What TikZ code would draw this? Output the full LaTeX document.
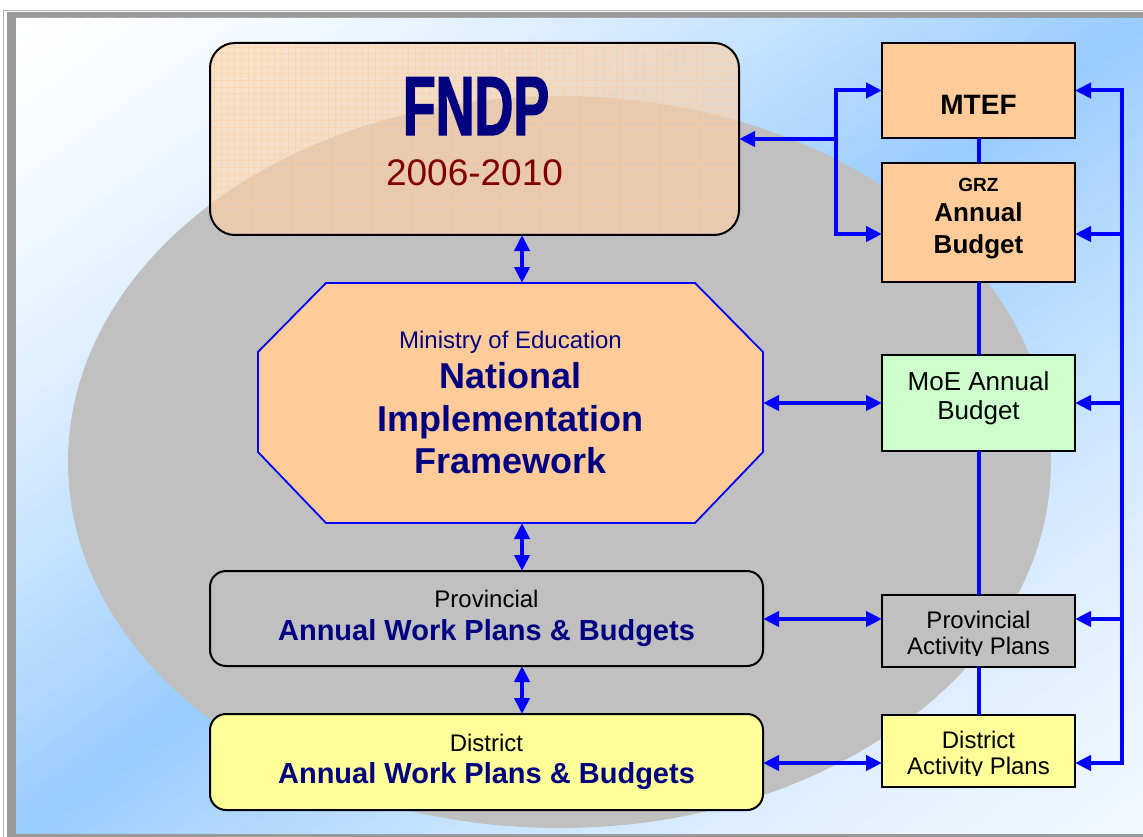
\documentclass[tikz,border=0pt]{standalone}
\usepackage{fontspec}
\setmainfont{Liberation Sans}
\newfontfamily\fndpfont{Liberation Sans}[FakeStretch=0.64,FakeBold=1.5]
\usetikzlibrary{arrows.meta,calc}
\definecolor{navy}{HTML}{000080}
\definecolor{dred}{HTML}{800000}
\definecolor{peach}{HTML}{FFCC99}
\definecolor{paleorange}{HTML}{FFD2A8}
\definecolor{lgray}{HTML}{C0C0C0}
\definecolor{lyellow}{HTML}{FFFF99}
\definecolor{lgreen}{HTML}{CCFFCC}
\definecolor{bgblue}{HTML}{99CCFF}
\definecolor{framegray}{HTML}{999999}
\definecolor{framelight}{HTML}{B0B0B0}
\definecolor{arrowblue}{HTML}{0000FF}
\tikzset{
  every node/.style={inner sep=0pt, outer sep=0pt},
  box/.style={draw=black, line width=2pt, minimum width=193pt},
  wbox/.style={draw=black, line width=2pt, rounded corners=16pt, minimum width=553pt},
  conn/.style={draw=arrowblue, line width=4pt},
  arr/.style={conn, -{Triangle[length=16pt,width=15pt]}},
  dbl/.style={conn, line join=miter, {Triangle[length=16pt,width=15pt]}-{Triangle[length=16pt,width=15pt]}},
  lbl/.style={anchor=base, align=center},
}
\begin{document}
\begin{tikzpicture}[x=1pt,y=-1pt]
\useasboundingbox (0,0) rectangle (1143,837);
\clip (0,0) rectangle (1143,837);
% frame and background
\draw[framelight, line width=1pt] (3.5,10.5) rectangle (1170,870);
\fill[framegray] (7,12) rectangle (1170,870);
\begin{scope}
  \clip (16,18) rectangle (1160,833);
  \foreach \i in {0,...,99} {
    \pgfmathsetmacro{\ca}{\i/50}
    \pgfmathsetmacro{\cb}{(\i+1.4)/50}
    \pgfmathsetmacro{\cm}{(\i+0.5)/50}
    \pgfmathsetmacro{\pct}{\cm<1 ? 100*(\cm)^1.5 : 15+85*(2-\cm)^1.5}
    \fill[bgblue!\pct!white] (16+\ca*1127,18) -- (16+\cb*1127,18) -- (16,18+\cb*815) -- (16,18+\ca*815) -- cycle;
  }
\end{scope}
\fill[lgray] (559.5,462) ellipse [x radius=491.5pt, y radius=366pt];

% boxes
\node[fill=paleorange, fill opacity=0.6, rounded corners=25pt, minimum width=529pt, minimum height=192pt] (fndp) at (474.5,139) {};
\begin{scope}
  \clip[rounded corners=25pt] (fndp.north west) rectangle (fndp.south east);
  \draw[peach, line width=0.6pt, opacity=0.5] (200,30) grid[step=6.7pt] (750,250);
\end{scope}
\draw[black, line width=2pt, rounded corners=25pt] (fndp.north west) rectangle (fndp.south east);
\node[box, fill=peach, minimum height=95pt] (mtef) at (978.5,90.5) {};
\node[box, fill=peach, minimum height=119pt] (grz) at (978.5,222.5) {};
\node[box, fill=lgreen, minimum height=96pt] (moe) at (978.5,403) {};
\node[box, fill=lgray, minimum height=72pt] (pact) at (978.5,631) {};
\node[box, fill=lyellow, minimum height=72pt] (dact) at (978.5,751) {};
\node[minimum width=505pt, minimum height=240pt] (nif) at (510.5,403) {};
\draw[draw=arrowblue, line width=1.8pt, fill=peach, line join=miter]
  ($(nif.north west)+(68,0)$) -- ($(nif.north east)+(-68,0)$) -- ($(nif.north east)+(0,69)$)
  -- ($(nif.south east)+(0,-71)$) -- ($(nif.south east)+(-68,0)$) -- ($(nif.south west)+(68,0)$)
  -- ($(nif.south west)+(0,-71)$) -- ($(nif.north west)+(0,69)$) -- cycle;
\node[wbox, fill=lgray, minimum height=95pt] (prov) at (486.5,618.5) {};
\node[wbox, fill=lyellow, minimum height=96pt] (dist) at (486.5,762) {};

% connectors
\coordinate (ax) at (522,0);
\coordinate (bl) at (836,0);
\coordinate (rb) at (1121.5,0);
\coordinate (gy) at (0,234);
\coordinate (py) at (0,619);
\coordinate (dy) at (0,763);
\draw[dbl] (fndp.south -| ax) -- (nif.north -| ax);
\draw[dbl] (nif.south -| ax) -- (prov.north -| ax);
\draw[dbl] (prov.south -| ax) -- (dist.north -| ax);
\draw[dbl] (nif.east) -- (nif.east -| moe.west);
\draw[dbl] (prov.east |- py) -- (pact.west |- py);
\draw[dbl] (dist.east |- dy) -- (dact.west |- dy);
\draw[dbl] (mtef.west) -| (bl |- gy) -- (grz.west |- gy);
\draw[arr] (bl |- fndp.east) -- (fndp.east);
\draw[dbl] (mtef.east) -| (rb |- dy) -- (dact.east |- dy);
\draw[arr] (rb |- gy) -- (grz.east |- gy);
\draw[arr] (rb |- moe.east) -- (moe.east);
\draw[arr] (rb |- py) -- (pact.east |- py);
\draw[conn] (mtef.south) -- (grz.north);
\draw[conn] (grz.south) -- (moe.north);
\draw[conn] (moe.south) -- (pact.north);
\draw[conn] (pact.south) -- (dact.north);

% texts
\node[lbl, font=\fndpfont\bfseries\fontsize{84}{84}\selectfont, text=navy] (tfndp) at (476,135) {FNDP};
\node[lbl, font=\fontsize{37}{37}\selectfont, text=dred] (tyears) at (474.5,186) {2006-2010};
\node[lbl, font=\bfseries\fontsize{28}{28}\selectfont] (tmtef) at (978.5,115) {MTEF};
\node[lbl, font=\bfseries\fontsize{19}{19}\selectfont] (tgrz) at (978.5,192) {GRZ};
\node[lbl, font=\bfseries\fontsize{26}{26}\selectfont] (tgrz2) at (978.5,222) {Annual};
\node[lbl, font=\bfseries\fontsize{26}{26}\selectfont] (tgrz3) at (978.5,253) {Budget};
\node[lbl, font=\fontsize{26}{26}\selectfont] (tmoe1) at (978.5,390) {MoE Annual};
\node[lbl, font=\fontsize{26}{26}\selectfont] (tmoe2) at (978.5,419) {Budget};
\node[lbl, font=\fontsize{24}{24}\selectfont, text=navy] (tnif1) at (510.5,348) {Ministry of Education};
\node[lbl, font=\bfseries\fontsize{36}{36}\selectfont, text=navy] (tnif2) at (510.5,388) {National};
\node[lbl, font=\bfseries\fontsize{36}{36}\selectfont, text=navy] (tnif3) at (510.5,431) {Implementation};
\node[lbl, font=\bfseries\fontsize{36}{36}\selectfont, text=navy] (tnif4) at (510.5,473) {Framework};
\node[lbl, font=\fontsize{24}{24}\selectfont] (tprov1) at (486.5,607) {Provincial};
\node[lbl, font=\bfseries\fontsize{29}{29}\selectfont, text=navy] (tprov2) at (486.5,640) {Annual Work Plans \& Budgets};
\node[lbl, font=\fontsize{24}{24}\selectfont] (tdist1) at (486.5,751) {District};
\node[lbl, font=\bfseries\fontsize{29}{29}\selectfont, text=navy] (tdist2) at (486.5,783) {Annual Work Plans \& Budgets};
\node[lbl, font=\fontsize{24}{24}\selectfont] (tpact1) at (978.5,628) {Provincial};
\begin{scope}
  \clip (880,600) rectangle (1078,655.5);
  \node[lbl, font=\fontsize{24}{24}\selectfont] (tpact2) at (978.5,654) {Activity Plans};
\end{scope}
\node[lbl, font=\fontsize{24}{24}\selectfont] (tdact1) at (978.5,748) {District};
\begin{scope}
  \clip (880,720) rectangle (1078,775.5);
  \node[lbl, font=\fontsize{24}{24}\selectfont] (tdact2) at (978.5,774) {Activity Plans};
\end{scope}
\end{tikzpicture}
\end{document}
